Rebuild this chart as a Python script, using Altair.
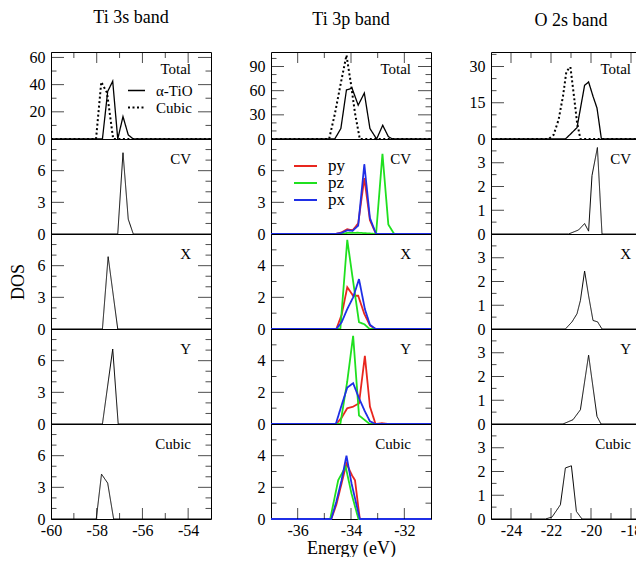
import altair as alt
import pandas as pd

SERIF = "Liberation Serif"

COL_TITLES = ["Ti 3s band", "Ti 3p band", "O 2s band"]
ROW_LABELS = ["Total", "CV", "X", "Y", "Cubic"]

# ---------- axes ----------
X_DOMAINS = [[-60, -53], [-37, -31], [-25, -17]]
X_LABELS = [[-60, -58, -56, -54], [-36, -34, -32], [-24, -22, -20, -18]]
X_MINOR = [[-59, -57, -55], [-35, -33], [-23, -21, -19]]

Y_MAX = [[64, 9, 9, 9, 9], [108, 9, 6, 6, 6], [36, 4, 4, 4, 4]]
Y_LABELS = [
    [[0, 20, 40, 60], [0, 3, 6], [0, 3, 6], [0, 3, 6], [0, 3, 6]],
    [[0, 30, 60, 90], [0, 3, 6], [0, 2, 4], [0, 2, 4], [0, 2, 4]],
    [[0, 15, 30], [0, 1, 2, 3], [0, 1, 2, 3], [0, 1, 2, 3], [0, 1, 2, 3]],
]
Y_MINOR = [
    [[10, 30, 50]] + [[1, 2, 4, 5, 7, 8]] * 4,
    [[10, 20, 40, 50, 70, 80, 100], [1, 2, 4, 5, 7, 8], [1, 3, 5], [1, 3, 5], [1, 3, 5]],
    [[5, 10, 20, 25, 35]] + [[0.5, 1.5, 2.5, 3.5]] * 4,
]

# ---------- Ti 3s band ----------
TI3S_TOTAL_A_E = [-60, -57.75, -57.52, -57.30, -57.08, -56.85, -56.62, -56.40, -53]
TI3S_TOTAL_A_DOS = [0, 0, 35, 42.5, 0, 16.5, 3, 0, 0]
TI3S_TOTAL_C_E = [-60, -58.03, -57.80, -57.55, -57.28, -53]
TI3S_TOTAL_C_DOS = [0, 0, 42, 34, 0, 0]
TI3S_CV_E = [-60, -57.08, -56.85, -56.62, -56.40, -53]
TI3S_CV_DOS = [0, 0, 7.7, 1.4, 0, 0]
TI3S_X_E = [-60, -57.75, -57.50, -57.08, -53]
TI3S_X_DOS = [0, 0, 6.85, 0, 0]
TI3S_Y_E = [-60, -57.75, -57.30, -57.06, -53]
TI3S_Y_DOS = [0, 0, 7.1, 0, 0]
TI3S_CUB_E = [-60, -58.02, -57.79, -57.52, -57.26, -53]
TI3S_CUB_DOS = [0, 0, 4.25, 3.4, 0, 0]

# ---------- Ti 3p band ----------
TI3P_TOTAL_A_E = [-37, -34.61, -34.38, -34.17, -33.96, -33.73, -33.50, -33.29, -33.04, -32.81, -32.60, -32.45, -31]
TI3P_TOTAL_A_DOS = [0, 0, 13, 61, 63, 42, 57, 13, 0, 17, 3, 0, 0]
TI3P_TOTAL_C_E = [-37, -34.82, -34.60, -34.39, -34.17, -34.00, -33.85, -33.67, -31]
TI3P_TOTAL_C_DOS = [0, 0, 32, 68, 104, 68, 32, 0, 0]

TI3P_CV_PY_E = [-37, -34.60, -34.36, -34.14, -33.94, -33.73, -33.50, -33.29, -33.06, -31]
TI3P_CV_PY_DOS = [0, 0, 0.15, 0.45, 0.35, 1.0, 5.3, 1.3, 0, 0]
TI3P_CV_PZ_E = [-37, -34.40, -34.14, -33.73, -33.30, -33.06, -32.82, -32.60, -32.38, -31]
TI3P_CV_PZ_DOS = [0, 0, 0.1, 0.12, 0.05, 0, 7.6, 0.9, 0, 0]
TI3P_CV_PX_E = [-37, -34.60, -34.36, -34.14, -33.94, -33.73, -33.50, -33.29, -33.06, -31]
TI3P_CV_PX_DOS = [0, 0, 0.1, 0.35, 0.3, 0.8, 6.6, 1.5, 0, 0]

TI3P_X_PY_E = [-37, -34.55, -34.35, -34.14, -33.92, -33.73, -33.50, -33.29, -33.08, -31]
TI3P_X_PY_DOS = [0, 0, 0.9, 2.64, 2.1, 2.1, 0.95, 0.23, 0, 0]
TI3P_X_PZ_E = [-37, -34.40, -34.14, -33.92, -33.70, -33.50, -33.30, -31]
TI3P_X_PZ_DOS = [0, 0, 5.63, 3.0, 0.43, 0.3, 0, 0]
TI3P_X_PX_E = [-37, -34.55, -34.35, -34.14, -33.92, -33.70, -33.48, -33.29, -33.08, -31]
TI3P_X_PX_DOS = [0, 0, 0.43, 1.26, 2.0, 3.15, 1.26, 0.27, 0, 0]

TI3P_Y_PY_E = [-37, -34.55, -34.35, -34.14, -33.92, -33.70, -33.48, -33.29, -33.08, -32.85, -32.60, -31]
TI3P_Y_PY_DOS = [0, 0, 0.4, 1.0, 1.1, 1.3, 4.3, 1.1, 0, 0.05, 0, 0]
TI3P_Y_PZ_E = [-37, -34.40, -34.14, -33.92, -33.70, -33.30, -31]
TI3P_Y_PZ_DOS = [0, 0, 2.7, 5.57, 0.54, 0, 0]
TI3P_Y_PX_E = [-37, -34.57, -34.35, -34.14, -33.92, -33.70, -33.48, -33.29, -33.08, -31]
TI3P_Y_PX_DOS = [0, 0, 1.2, 2.3, 2.58, 1.63, 0.8, 0.17, 0, 0]

TI3P_CUB_PY_E = [-37, -34.74, -34.55, -34.36, -34.17, -33.96, -33.85, -33.67, -31]
TI3P_CUB_PY_DOS = [0, 0, 0.9, 2.2, 3.5, 2.75, 2.45, 0, 0]
TI3P_CUB_PZ_E = [-37, -34.78, -34.48, -34.20, -33.98, -33.72, -31]
TI3P_CUB_PZ_DOS = [0, 0, 2.45, 3.3, 1.6, 0, 0]
TI3P_CUB_PX_E = [-37, -34.74, -34.55, -34.36, -34.17, -33.98, -33.67, -31]
TI3P_CUB_PX_DOS = [0, 0, 1.1, 2.4, 4.0, 2.25, 0, 0]

# ---------- O 2s band ----------
O2S_TOTAL_A_E = [-25, -21.28, -20.98, -20.70, -20.32, -20.12, -19.90, -19.70, -19.48, -17]
O2S_TOTAL_A_DOS = [0, 0, 2.4, 4.7, 22.2, 23.6, 17.7, 12.8, 0, 0]
O2S_TOTAL_C_E = [-25, -22.12, -21.87, -21.62, -21.40, -21.23, -21.03, -20.87, -20.70, -20.53, -17]
O2S_TOTAL_C_DOS = [0, 0, 1.7, 8, 17.7, 28, 29.8, 19, 7, 0, 0]
O2S_CV_E = [-25, -21.12, -20.62, -20.32, -20.12, -19.95, -19.68, -19.45, -17]
O2S_CV_DOS = [0, 0, 0.17, 0.44, 0.12, 2.46, 3.64, 0, 0]
O2S_X_E = [-25, -21.28, -20.95, -20.70, -20.53, -20.32, -20.12, -19.90, -19.67, -19.45, -17]
O2S_X_DOS = [0, 0, 0.3, 0.64, 1.2, 2.44, 1.4, 0.36, 0.3, 0, 0]
O2S_Y_E = [-25, -21.40, -20.90, -20.53, -20.12, -19.70, -19.50, -17]
O2S_Y_DOS = [0, 0, 0.18, 0.6, 2.9, 0.32, 0, 0]
O2S_CUB_E = [-25, -22.28, -21.95, -21.53, -21.28, -20.98, -20.73, -20.45, -17]
O2S_CUB_DOS = [0, 0, 0.08, 0.6, 2.15, 2.24, 0.32, 0, 0]

PANELS = [
    [
        [("α-TiO", TI3S_TOTAL_A_E, TI3S_TOTAL_A_DOS), ("Cubic", TI3S_TOTAL_C_E, TI3S_TOTAL_C_DOS)],
        [("dos", TI3S_CV_E, TI3S_CV_DOS)],
        [("dos", TI3S_X_E, TI3S_X_DOS)],
        [("dos", TI3S_Y_E, TI3S_Y_DOS)],
        [("dos", TI3S_CUB_E, TI3S_CUB_DOS)],
    ],
    [
        [("α-TiO", TI3P_TOTAL_A_E, TI3P_TOTAL_A_DOS), ("Cubic", TI3P_TOTAL_C_E, TI3P_TOTAL_C_DOS)],
        [("py", TI3P_CV_PY_E, TI3P_CV_PY_DOS), ("pz", TI3P_CV_PZ_E, TI3P_CV_PZ_DOS), ("px", TI3P_CV_PX_E, TI3P_CV_PX_DOS)],
        [("py", TI3P_X_PY_E, TI3P_X_PY_DOS), ("pz", TI3P_X_PZ_E, TI3P_X_PZ_DOS), ("px", TI3P_X_PX_E, TI3P_X_PX_DOS)],
        [("py", TI3P_Y_PY_E, TI3P_Y_PY_DOS), ("pz", TI3P_Y_PZ_E, TI3P_Y_PZ_DOS), ("px", TI3P_Y_PX_E, TI3P_Y_PX_DOS)],
        [("py", TI3P_CUB_PY_E, TI3P_CUB_PY_DOS), ("pz", TI3P_CUB_PZ_E, TI3P_CUB_PZ_DOS), ("px", TI3P_CUB_PX_E, TI3P_CUB_PX_DOS)],
    ],
    [
        [("α-TiO", O2S_TOTAL_A_E, O2S_TOTAL_A_DOS), ("Cubic", O2S_TOTAL_C_E, O2S_TOTAL_C_DOS)],
        [("dos", O2S_CV_E, O2S_CV_DOS)],
        [("dos", O2S_X_E, O2S_X_DOS)],
        [("dos", O2S_Y_E, O2S_Y_DOS)],
        [("dos", O2S_CUB_E, O2S_CUB_DOS)],
    ],
]

# ---------- styling ----------
W = 160
H_TOP = 87
H = 95
COL_GAP = 60
MAJOR_LEN = 26   # centred on the frame, half is clipped -> 13 px inward
MINOR_LEN = 11
XMAJOR_LEN = 22
XMINOR_LEN = 12
PCOLORS = {"py": "#e8261e", "pz": "#1fe01f", "px": "#1f2fe6"}
NEG_EXPR = "datum.value < 0 ? '-' + abs(datum.value) : '' + datum.value"


def style(ri, name):
    if name in PCOLORS:
        return PCOLORS[name], [1, 0], 1.8
    if ri == 0 and name == "Cubic":
        return "black", [2, 2.5], 2.0
    return "black", [1, 0], 1.3


def panel(ci, ri):
    h = H_TOP if ri == 0 else H
    xs = alt.Scale(domain=X_DOMAINS[ci], nice=False, zero=False)
    ys = alt.Scale(domain=[0, Y_MAX[ci][ri]], nice=False, zero=False)
    series = PANELS[ci][ri]
    rows = []
    for name, E, D in series:
        for e, d in zip(E, D):
            rows.append({"E": e, "D": d, "s": name})
    df = pd.DataFrame(rows)
    names = [s[0] for s in series]
    st = [style(ri, n) for n in names]

    if ri == 4:
        xaxis = alt.Axis(values=X_LABELS[ci], ticks=False, domain=False, grid=False,
                         labelFont=SERIF, labelFontSize=16, labelPadding=3,
                         labelFlush=False, labelOverlap=False, labelExpr=NEG_EXPR,
                         labelColor="black",
                         title=("Energy (eV)" if ci == 1 else None),
                         titleFont=SERIF, titleFontSize=18, titleFontWeight="normal",
                         titleColor="black", titlePadding=1)
    else:
        xaxis = None
    yaxis = alt.Axis(values=Y_LABELS[ci][ri], ticks=False, domain=False, grid=False,
                     labelFont=SERIF, labelFontSize=16, labelPadding=6,
                     labelFlush=False, labelOverlap=False, labelColor="black",
                     title=("DOS" if (ci == 0 and ri == 2) else None),
                     titleFont=SERIF, titleFontSize=18, titleFontWeight="normal",
                     titleColor="black", titlePadding=10)

    leg = None
    if ci == 0 and ri == 0:
        leg = alt.Legend(orient="none", legendX=76, legendY=30, title=None,
                         symbolType="stroke", symbolSize=289, symbolStrokeWidth=1.6,
                         symbolStrokeColor="black", labelFont=SERIF, labelFontSize=15,
                         labelColor="black", labelOffset=10, rowPadding=0, clipHeight=17,
                         padding=0)
    if ci == 1 and ri == 1:
        leg = alt.Legend(orient="none", legendX=22, legendY=19, title=None,
                         symbolType="stroke", symbolSize=529, symbolStrokeWidth=2,
                         labelFont=SERIF, labelFontSize=17, labelColor="black",
                         labelOffset=10, rowPadding=0, clipHeight=16, padding=0)

    lines = alt.Chart(df).mark_line(strokeJoin="miter").encode(
        x=alt.X("E:Q", scale=xs, axis=xaxis),
        y=alt.Y("D:Q", scale=ys, axis=yaxis),
        color=alt.Color("s:N", scale=alt.Scale(domain=names, range=[t[0] for t in st]),
                        legend=leg),
        strokeDash=alt.StrokeDash("s:N", scale=alt.Scale(domain=names, range=[t[1] for t in st]),
                                  legend=leg),
        strokeWidth=alt.StrokeWidth("s:N", scale=alt.Scale(domain=names, range=[t[2] for t in st]),
                                    legend=leg),
    )

    yt = pd.DataFrame({"v": Y_LABELS[ci][ri][1:] + Y_MINOR[ci][ri],
                       "L": [MAJOR_LEN] * (len(Y_LABELS[ci][ri]) - 1) + [MINOR_LEN] * len(Y_MINOR[ci][ri])})
    layers = [lines]
    for sx in (0, W):
        layers.append(alt.Chart(yt).mark_tick(clip=True, color="black", thickness=1).encode(
            y=alt.Y("v:Q", scale=ys, axis=yaxis),
            x=alt.value(sx),
            size=alt.Size("L:Q", scale=None, legend=None),
        ))
    if ri in (0, 4):
        xt = pd.DataFrame({"v": X_LABELS[ci] + X_MINOR[ci],
                           "L": [XMAJOR_LEN] * len(X_LABELS[ci]) + [XMINOR_LEN] * len(X_MINOR[ci])})
        layers.append(alt.Chart(xt).mark_tick(clip=True, color="black", thickness=1).encode(
            x=alt.X("v:Q", scale=xs, axis=xaxis),
            y=alt.value(0 if ri == 0 else h),
            size=alt.Size("L:Q", scale=None, legend=None),
        ))
    lab = pd.DataFrame({"t": [ROW_LABELS[ri]]})
    layers.append(alt.Chart(lab).mark_text(align="right", baseline="middle", font=SERIF,
                                           fontSize=15, color="black").encode(
        text="t:N", x=alt.value(W - 20), y=alt.value(17 if ri == 0 else 20)))

    ch = alt.layer(*layers).properties(width=W, height=h)
    if ri == 0:
        ch = ch.properties(title=alt.TitleParams(text=COL_TITLES[ci], font=SERIF, fontSize=18,
                                                 fontWeight="normal", color="black",
                                                 anchor="middle", frame="group", offset=22))
    return ch


columns = []
for ci in range(3):
    col = alt.vconcat(*[panel(ci, ri) for ri in range(5)], spacing=0, bounds="flush").resolve_scale(
        color="independent", strokeDash="independent", strokeWidth="independent")
    columns.append(col)

# with flush bounds the nested columns count as zero-width, so the spacing is the column pitch
chart = alt.hconcat(*columns, spacing=W + COL_GAP, bounds="flush").resolve_scale(
    color="independent", strokeDash="independent", strokeWidth="independent"
).properties(
    padding={"left": 0, "top": 0, "right": -20, "bottom": -1}
).configure_view(stroke="black", strokeWidth=1)

chart.save("out.html", embed_options={"renderer": "svg", "actions": False})
